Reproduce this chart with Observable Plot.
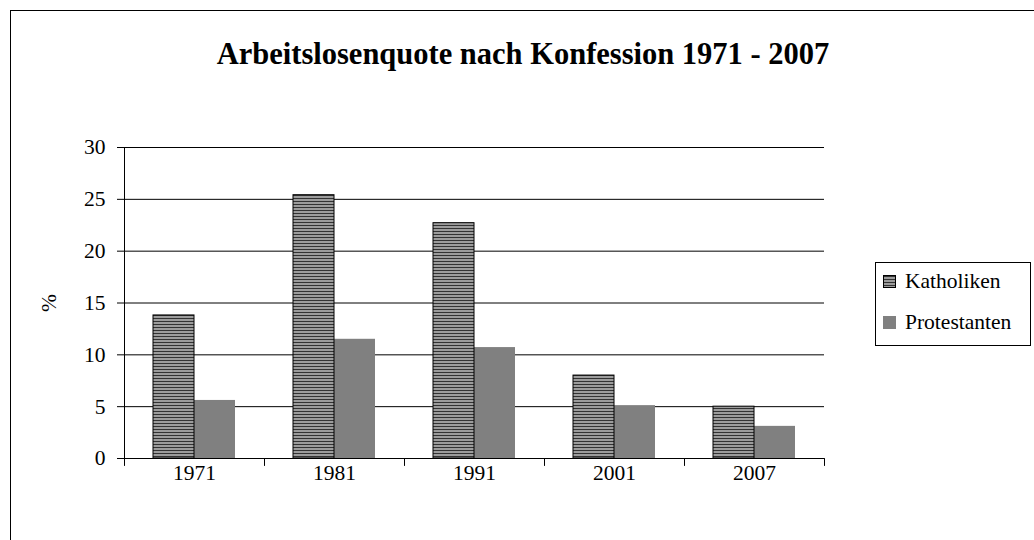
<!DOCTYPE html>
<html><head><meta charset="utf-8">
<script src="https://cdn.jsdelivr.net/npm/d3@7"></script>
<script src="https://cdn.jsdelivr.net/npm/@observablehq/plot@0.6"></script>
<style>
body{margin:0;background:#fff;font-family:"Liberation Serif",serif;}
#wrap{position:relative;width:1034px;height:540px;overflow:hidden;}
#border{position:absolute;left:10px;top:10px;width:1100px;height:600px;border:1.5px solid #000;box-sizing:border-box;}
#title{position:absolute;left:10px;width:1026px;top:37px;text-align:center;font-family:"Liberation Serif",serif;font-weight:bold;font-size:30.5px;color:#000;}
#chart{position:absolute;left:0;top:0;}
#legend{position:absolute;left:875px;top:262px;width:156px;height:84px;border:1px solid #000;box-sizing:border-box;background:#fff;}
.item{position:absolute;left:7px;display:flex;align-items:center;white-space:nowrap;font-family:"Liberation Serif",serif;font-size:21.5px;color:#000;}
.item span{font-family:"Liberation Serif",serif;}
.sw{width:13px;height:13px;margin-right:9px;box-sizing:border-box;}
</style></head>
<body>
<div id="wrap">
<div id="border"></div>
<div id="title">Arbeitslosenquote nach Konfession 1971 - 2007</div>
<div id="chart"></div>
<div id="legend"></div>
</div>
<script>
const years = ["1971", "1981", "1991", "2001", "2007"];
const series = ["Katholiken", "Protestanten"];
const katholiken = [13.8, 25.4, 22.7, 8.0, 5.0];
const protestanten = [5.6, 11.5, 10.7, 5.1, 3.1];
const yTicks = [0, 5, 10, 15, 20, 25, 30];

const rows = [];
years.forEach((y, i) => {
  rows.push({year: y, series: series[0], value: katholiken[i]});
  rows.push({year: y, series: series[1], value: protestanten[i]});
});

const lineShape = {draw(ctx, l) { ctx.moveTo(0, 0); ctx.lineTo(0, -l); }};

const chart = Plot.plot({
  width: 1034, height: 540,
  marginTop: 147, marginBottom: 82, marginLeft: 122, marginRight: 208,
  style: {fontFamily: "'Liberation Serif', serif", fontSize: "21.5px", color: "#000", background: "transparent"},
  fx: {domain: years, padding: 0, label: null},
  x: {domain: series, paddingInner: 0, paddingOuter: 0.68, axis: null},
  y: {domain: [0, 30], ticks: yTicks, label: null},
  color: {domain: series, range: ["url(#kath)", "#808080"]},
  marks: [
    Plot.ruleY(yTicks, {stroke: "#000", strokeWidth: 1}),
    Plot.barY(rows.filter(d => d.series === series[1]), {fx: "year", x: "series", y: "value", fill: "series"}),
    Plot.barY(rows.filter(d => d.series === series[0]), {fx: "year", x: "series", y: "value", fill: "series", stroke: "#000", strokeWidth: 1}),
    Plot.frame({anchor: "left", facetAnchor: "left", stroke: "#000"}),
    Plot.vector([0], {frameAnchor: "bottom-left", length: 7, rotate: 180, anchor: "start", shape: lineShape, stroke: "#000", strokeWidth: 1}),
    Plot.vector([0], {frameAnchor: "bottom-right", facetAnchor: "right", length: 7, rotate: 180, anchor: "start", shape: lineShape, stroke: "#000", strokeWidth: 1}),
    Plot.axisY({ticks: yTicks, tickSize: 7, tickPadding: 12, label: "%", labelAnchor: "center", labelArrow: "none", labelOffset: 84, facetAnchor: "left"}),
    Plot.axisFx({anchor: "bottom", tickSize: 0, tickPadding: 6, label: null})
  ]
});

const defs = d3.select(chart).insert("defs", ":first-child");
const pat = defs.append("pattern").attr("id", "kath").attr("patternUnits", "userSpaceOnUse").attr("width", 6).attr("height", 3);
pat.append("rect").attr("width", 6).attr("height", 3).attr("fill", "#9c9c9c");
pat.append("rect").attr("width", 6).attr("height", 1).attr("fill", "#333");
document.getElementById("chart").appendChild(chart);

const legend = document.getElementById("legend");
const fills = ["repeating-linear-gradient(to bottom,#333 0 1px,#9c9c9c 1px 3px)", "#808080"];
series.forEach((s, i) => {
  const it = document.createElement("div");
  it.className = "item";
  it.style.top = (i === 0 ? 6 : 47) + "px";
  const sw = document.createElement("div");
  sw.className = "sw";
  sw.style.background = fills[i];
  if (i === 0) sw.style.border = "1px solid #000";
  it.appendChild(sw);
  const t = document.createElement("span");
  t.textContent = s;
  it.appendChild(t);
  legend.appendChild(it);
});
</script>
</body></html>
